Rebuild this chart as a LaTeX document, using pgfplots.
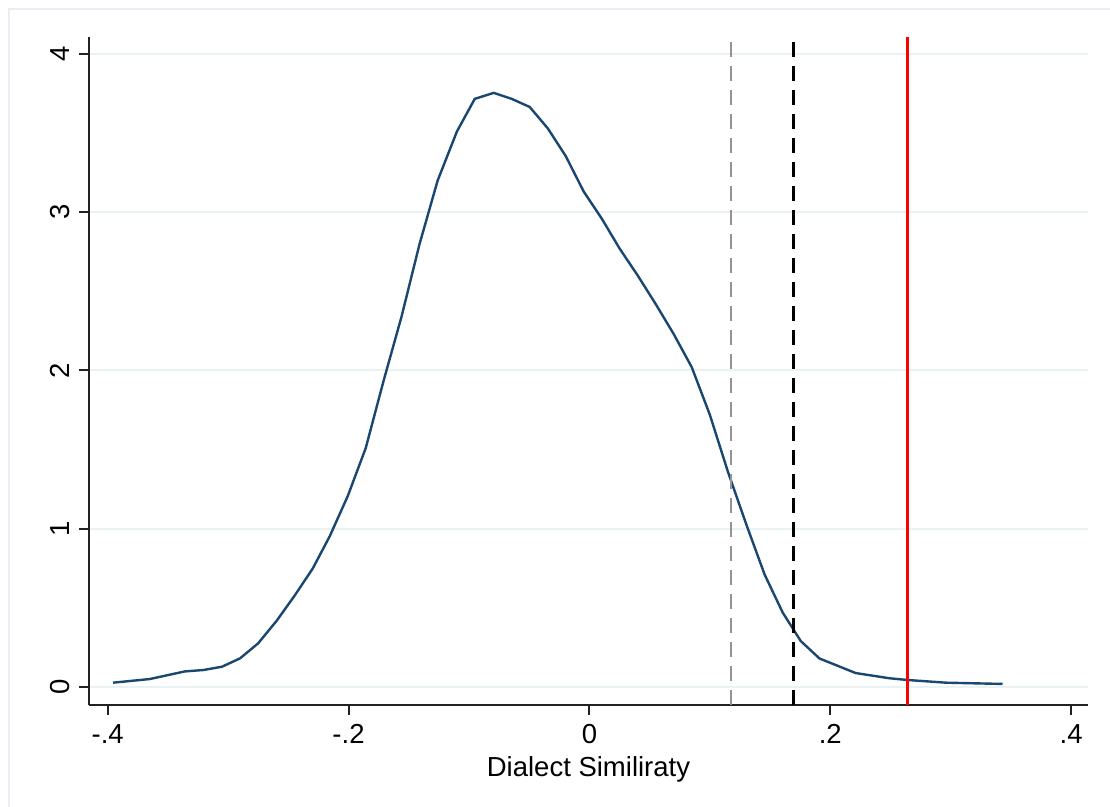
\documentclass[border=0pt]{standalone}
\usepackage{fontspec}
\setmainfont{Liberation Sans}
\usepackage{pgfplots}
\pgfplotsset{compat=1.18}
\definecolor{stnavy}{HTML}{1A476F}
\definecolor{gridc}{HTML}{EAF2F3}
\definecolor{framec}{HTML}{E8EEF4}
\definecolor{axc}{HTML}{222222}

\begin{document}
\begin{tikzpicture}
\fontsize{13.75}{16}\selectfont
\useasboundingbox (-44.5pt,-51pt) rectangle (510.5pt,352.5pt);
\draw[framec, line width=1pt] (-40pt,-51pt) -- (-40pt,348pt) -- (510.5pt,348pt);
\begin{axis}[
  at={(0,0)}, anchor=south west,
  scale only axis, width=499.5pt, height=334pt,
  xmin=-0.4155, xmax=0.414, ymin=-0.114, ymax=4.107,
  axis x line*=bottom, axis y line*=left,
  axis line style={axc, line width=1pt},
  tick align=outside, major tick length=5pt,
  tick style={axc, line width=1pt},
  xtick={-0.4,-0.2,0,0.2,0.4},
  xticklabels={-.4,-.2,0,.2,.4},
  ytick={0,1,2,3,4},
  yticklabels={0,1,2,3,4},
  yticklabel style={rotate=90, anchor=south},
  ymajorgrids, xmajorgrids=false,
  major grid style={gridc, line width=1pt},
  xlabel={Dialect Similiraty},
  xlabel style={yshift=3pt},
  tick label style={font=\fontsize{13.75}{16}\selectfont},
  label style={font=\fontsize{13.75}{16}\selectfont},
  /pgf/number format/assume math mode=true,
  clip=false,
]
\addplot[stnavy, line width=1.2pt] coordinates {
(-0.3955,0.027)(-0.365,0.050)(-0.336,0.098)(-0.3205,0.107)(-0.305,0.128)
(-0.290,0.181)(-0.275,0.276)(-0.2595,0.42)(-0.2445,0.58)(-0.2296,0.75)
(-0.2155,0.954)(-0.2006,1.207)(-0.1857,1.51)(-0.1707,1.94)(-0.156,2.34)
(-0.141,2.80)(-0.126,3.20)(-0.110,3.51)(-0.0952,3.716)(-0.0794,3.754)
(-0.0645,3.716)(-0.0496,3.665)(-0.0346,3.53)(-0.0197,3.355)(-0.0047,3.13)
(0.0102,2.96)(0.0251,2.77)(0.0401,2.60)(0.055,2.42)(0.070,2.23)
(0.085,2.02)(0.100,1.72)(0.115,1.36)(0.1306,1.02)(0.1455,0.71)
(0.1605,0.47)(0.1755,0.29)(0.191,0.18)(0.221,0.088)(0.249,0.055)
(0.2641,0.044)(0.296,0.027)(0.343,0.019)
};
\addplot[gray!85, line width=1.2pt, dash pattern=on 7.5pt off 4.5pt] coordinates {(0.1178,-0.114)(0.1178,4.107)};
\addplot[black, line width=1.2pt, dash pattern=on 7.5pt off 4.5pt] coordinates {(0.1693,-0.114)(0.1693,4.107)};
\addplot[red, line width=1.2pt] coordinates {(0.2641,-0.114)(0.2641,4.107)};
\end{axis}
\end{tikzpicture}
\end{document}
